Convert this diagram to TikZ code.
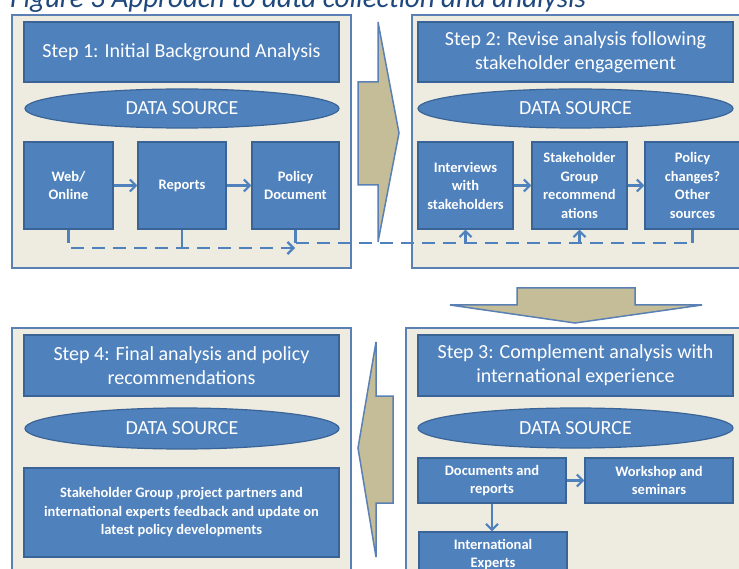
\documentclass[tikz,border=0pt]{standalone}
\usepackage{fontspec}
\setmainfont{Carlito}
\usetikzlibrary{shapes.geometric,arrows.meta}
\definecolor{boxblue}{HTML}{4F81BD}
\definecolor{boxedge}{HTML}{3A6496}
\definecolor{panelbg}{HTML}{EEECE1}
\definecolor{paneledge}{HTML}{5A80B4}
\definecolor{tan}{HTML}{C4BD97}
\definecolor{conncol}{HTML}{4F81BD}
\definecolor{titlecol}{HTML}{1F497D}
\tikzset{
  panel/.style={fill=panelbg,draw=paneledge,line width=1.6pt},
  hdr/.style={rectangle,fill=boxblue,draw=boxedge,line width=1.2pt,text=white,
    font=\fontsize{20}{24}\selectfont,align=center,inner sep=0pt},
  dsrc/.style={ellipse,fill=boxblue,draw=boxedge,line width=1.2pt,text=white,
    font=\fontsize{20}{24}\selectfont,inner sep=0pt},
  sbox/.style={rectangle,fill=boxblue,draw=boxedge,line width=1.2pt,text=white,
    font=\bfseries\fontsize{14.5}{18.5}\selectfont,align=center,inner sep=0pt},
  bigarrow/.style={fill=tan,draw=paneledge,line width=1.5pt,line join=miter},
  conn/.style={draw=conncol,line width=2.6pt},
  connarrow/.style={conn,-{Straight Barb[length=6pt,width=12pt,line width=2.2pt]}},
  dashconn/.style={conn,dash pattern=on 13pt off 8pt},
}
\begin{document}
\begin{tikzpicture}[x=1pt,y=-1pt]
\useasboundingbox (0,0) rectangle (739,569);
\clip (0,0) rectangle (739,569);
\fill[white] (0,0) rectangle (739,569);
% title
\node[anchor=base west,inner sep=0pt,text=titlecol,font=\itshape\fontsize{29}{34}\selectfont] (title) at (10,8) {Figure 3 Approach to data collection and analysis};
% panels
\draw[panel] (12,15) rectangle (351,268);
\draw[panel] (412,15) rectangle (748,268);
\draw[panel] (406,328) rectangle (748,580);
\draw[panel] (12,328) rectangle (351,580);
% big arrows
\draw[bigarrow] (358,82) -- (378,82) -- (378,22) -- (399,133) -- (378,242) -- (378,185) -- (358,185) -- cycle;
\draw[bigarrow] (517,288) -- (635,288) -- (635,305) -- (702,305) -- (575,323) -- (450,305) -- (517,305) -- cycle;
\draw[bigarrow] (393,396) -- (376,396) -- (376,342) -- (358,448) -- (376,557) -- (376,503) -- (393,503) -- cycle;
% step 1
\node[hdr,minimum width=315pt,minimum height=60pt] (h1) at (181.5,52) {Step 1: Initial Background Analysis};
\node[dsrc,minimum width=314pt,minimum height=39pt] (e1) at (182,108.5) {DATA SOURCE};
\node[sbox,minimum width=89pt,minimum height=87pt] (b11) at (68.5,185.5) {Web/\\Online};
\node[sbox,minimum width=88pt,minimum height=87pt] (b12) at (182,185.5) {Reports};
\node[sbox,minimum width=87pt,minimum height=87pt] (b13) at (295.5,185.5) {Policy\\Document};
% step 2
\node[hdr,minimum width=315pt,minimum height=60pt] (h2) at (575.5,52) {Step 2: Revise analysis following\\stakeholder engagement};
\node[dsrc,minimum width=315pt,minimum height=39pt] (e2) at (575.5,108.5) {DATA SOURCE};
\node[sbox,minimum width=95pt,minimum height=87pt] (b21) at (465.5,185.5) {Interviews\\with\\stakeholders};
\node[sbox,minimum width=95pt,minimum height=87pt] (b22) at (579.5,185.5) {Stakeholder\\Group\\recommend\\ations};
\node[sbox,minimum width=95pt,minimum height=87pt] (b23) at (692.5,185.5) {Policy\\changes?\\Other\\sources};
% step 3
\node[hdr,minimum width=315pt,minimum height=61pt] (h3) at (575.5,365.5) {Step 3: Complement analysis with\\international experience};
\node[dsrc,minimum width=315pt,minimum height=40pt] (e3) at (575.5,428) {DATA SOURCE};
\node[sbox,minimum width=148pt,minimum height=45pt] (b31) at (492,480.5) {Documents and\\reports};
\node[sbox,minimum width=148pt,minimum height=45pt] (b32) at (659,480.5) {Workshop and\\seminars};
\node[sbox,minimum width=148pt,minimum height=45pt] (b33) at (493,554.5) {International\\Experts};
% step 4
\node[hdr,minimum width=315pt,minimum height=61pt] (h4) at (181.5,365.5) {Step 4: Final analysis and policy\\recommendations};
\node[dsrc,minimum width=314pt,minimum height=41pt] (e4) at (182,428.5) {DATA SOURCE};
\node[sbox,minimum width=315pt,minimum height=89pt] (b41) at (181.5,512.5) {Stakeholder Group ,project partners and\\international experts feedback and update on\\latest policy developments};
% connectors
\draw[connarrow] (b11) -- (b12);
\draw[connarrow] (b12) -- (b13);
\draw[connarrow] (b21) -- (b22);
\draw[connarrow] (b22) -- (b23);
\draw[connarrow] (b31) -- (b32);
\draw[connarrow] (b31.south) -- (b31.south |- b33.north);
% dashed feedback lines
\coordinate (dA) at (295,248);
\coordinate (dB) at (0,243);
\draw[dashconn,-{Straight Barb[length=6pt,width=12pt,line width=2.2pt]}] (b11.south) |- (dA);
\draw[conn] (b12.south) -- (b12.south |- dA);
\draw[conn] (b13.south) -- (b13.south |- dB);
\draw[conn] (b23.south) -- (b23.south |- dB);
\draw[dashconn] (b13.south |- dB) -- (b23.south |- dB);
\draw[conn,-{Straight Barb[length=6pt,width=12pt,line width=2.2pt]}] (b21.south |- dB) -- (b21.south);
\draw[conn,-{Straight Barb[length=6pt,width=12pt,line width=2.2pt]}] (b22.south |- dB) -- (b22.south);
\end{tikzpicture}
\end{document}
